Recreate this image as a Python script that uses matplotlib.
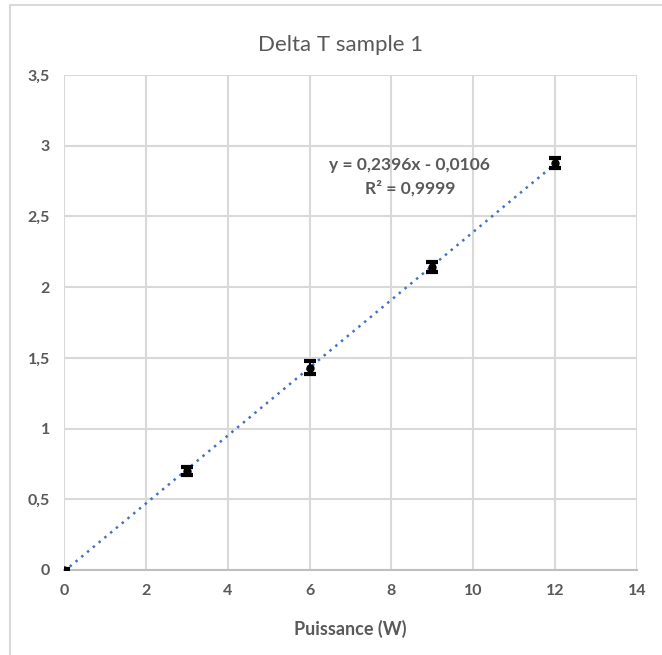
import numpy as np
import matplotlib.pyplot as plt
from matplotlib.lines import Line2D

# donnees mesurees
puissance = [0, 3, 6, 9, 12]
delta_t = [0.0, 0.70, 1.43, 2.14, 2.88]
erreur = [0.01, 0.025, 0.045, 0.035, 0.035]

gris = '#595959'
grille = '#d9d9d9'
plt.rcParams['font.family'] = ['Lato', 'DejaVu Sans']

fig = plt.figure(figsize=(6.62, 6.55), dpi=100)
ax = fig.add_axes([0.0967, 0.1298, 0.8653, 0.7557])

# regression lineaire (courbe de tendance)
a, b = np.polyfit(puissance, delta_t, 1)
xs = np.array([0, 12])
ax.plot(xs, a * xs + b, linestyle=(0, (1, 2)), color='#4472C4', lw=1.8, zorder=2)

ax.errorbar(puissance, delta_t, yerr=erreur, fmt='o', color='black', ms=5,
            ecolor='black', elinewidth=1.5, capsize=4.5, capthick=3, zorder=3)

ax.set_xlim(0, 14)
ax.set_ylim(0, 3.5)
ax.set_xticks(range(0, 15, 2))
ax.set_yticks(np.arange(0, 3.51, 0.5))
ax.set_yticklabels([('%g' % v).replace('.', ',') for v in np.arange(0, 3.51, 0.5)])
ax.grid(True, color=grille, lw=1.5)
ax.set_axisbelow(True)
for s in ['top', 'right', 'left']:
    ax.spines[s].set_visible(False)
ax.spines['bottom'].set_color('#bfbfbf')
ax.spines['bottom'].set_linewidth(1.5)
ax.tick_params(length=0, labelsize=11.5, labelcolor=gris, pad=10)
for lab in ax.get_xticklabels() + ax.get_yticklabels():
    lab.set_fontweight('bold')

ax.set_xlabel('Puissance (W)', fontsize=13, fontweight='bold', color=gris, labelpad=16)
fig.text(0.514, 0.931, 'Delta T sample 1', ha='center', va='center', fontsize=16, color=gris)

ax.text(8.45, 2.864, 'y = 0,2396x - 0,0106', ha='center', va='center',
        fontsize=12.5, fontweight='bold', color=gris)
ax.text(8.45, 2.70, 'R² = 0,9999', ha='center', va='center',
        fontsize=12.5, fontweight='bold', color=gris)

# cadre du graphique
fig.add_artist(Line2D([10 / 662, 1], [1 - 5 / 655, 1 - 5 / 655], color=grille, lw=1.5))
fig.add_artist(Line2D([10 / 662, 10 / 662], [0, 1 - 5 / 655], color=grille, lw=1.5))

plt.savefig('out.png', dpi=100)
